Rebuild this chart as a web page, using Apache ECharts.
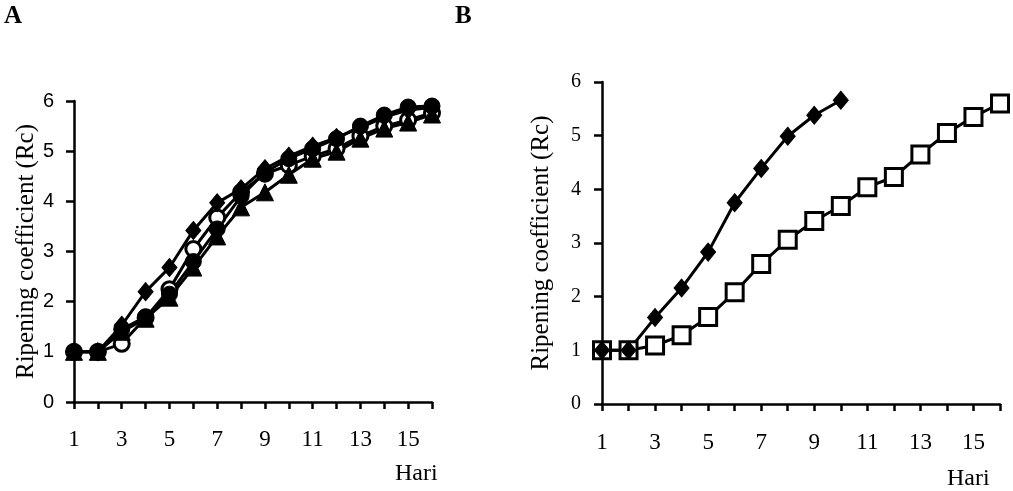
<!DOCTYPE html>
<html>
<head>
<meta charset="utf-8">
<script src="https://cdn.jsdelivr.net/npm/echarts@6/dist/echarts.min.js"></script>
<style>
html,body{margin:0;padding:0;background:#fff;}
#chart{width:1013px;height:491px;}
</style>
</head>
<body>
<div id="chart"></div>
<script>
// ---- data ----
var days = [1,2,3,4,5,6,7,8,9,10,11,12,13,14,15,16];
var xTickLabels = [1,3,5,7,9,11,13,15];
var yTicks = [0,1,2,3,4,5,6];

// Panel A
var aDiamond = [1,1,1.53,2.2,2.68,3.42,3.97,4.25,4.65,4.9,5.1,5.27,5.47,5.68,5.82,5.87];
var aOpenCircle = [1,1,1.16,1.68,2.25,3.05,3.68,4.18,4.55,4.72,4.9,5.05,5.3,5.5,5.62,5.76];
var aTriangle = [1,1,1.4,1.66,2.08,2.68,3.3,3.88,4.18,4.53,4.85,4.99,5.25,5.45,5.57,5.73];
var aFilledCircle = [1,1,1.45,1.7,2.15,2.8,3.45,4.1,4.58,4.85,5.05,5.25,5.5,5.72,5.88,5.9];

// Panel B
var bDiamond = [1,1,1.61,2.16,2.83,3.75,4.39,4.99,5.38,5.66];
var bOpenSquare = [1,1,1.09,1.28,1.62,2.08,2.61,3.06,3.41,3.69,4.04,4.23,4.65,5.05,5.35,5.6];

var yName = 'Ripening coefficient (Rc)';
var xName = 'Hari';

function pairs(vals){ return vals.map(function(v,i){ return [days[i], v]; }); }

var serif = 'Liberation Serif, Times New Roman, serif';
var sans = 'Liberation Sans, Arial, sans-serif';

function xAxisCfg(gi, margin){
  return {
    gridIndex: gi, type: 'value', min: 1, max: 16, interval: 1,
    axisLine: {show: true, onZero: false, lineStyle: {color: '#000', width: 2.5}},
    axisTick: {show: true, inside: false, length: 7, lineStyle: {color: '#000', width: 2.5}},
    splitLine: {show: false},
    axisLabel: {
      color: '#000', fontFamily: serif, fontSize: 23, margin: margin,
      formatter: function(v){ return xTickLabels.indexOf(v) >= 0 ? String(v) : ''; }
    }
  };
}
function yAxisCfg(gi, font, size, margin, gap){
  return {
    gridIndex: gi, type: 'value', min: 0, max: 6, interval: 1,
    name: yName, nameLocation: 'middle', nameGap: gap, nameRotate: 90,
    nameTextStyle: {color: '#000', fontFamily: serif, fontSize: 25},
    axisLine: {show: true, lineStyle: {color: '#000', width: 2.5}},
    axisTick: {show: true, inside: false, length: 8, lineStyle: {color: '#000', width: 2.5}},
    splitLine: {show: false},
    axisLabel: {color: '#000', fontFamily: font, fontSize: size, margin: margin,
      formatter: function(v){ return yTicks.indexOf(v) >= 0 ? String(v) : ''; }}
  };
}
function line(xi, data, symbol, size, filled){
  return {
    type: 'line', xAxisIndex: xi, yAxisIndex: xi, data: pairs(data),
    symbol: symbol, symbolSize: size, showAllSymbol: true,
    lineStyle: {color: '#000', width: 3},
    itemStyle: {color: filled ? '#000' : '#fff', borderColor: '#000', borderWidth: filled ? 1 : 3, opacity: 1},
    emphasis: {disabled: true},
    silent: true, animation: false
  };
}

var chart = echarts.init(document.getElementById('chart'), null, {renderer: 'canvas'});
chart.setOption({
  backgroundColor: '#fff',
  animation: false,
  grid: [
    {left: 74, right: 581, top: 101, bottom: 89, containLabel: false},
    {left: 602, right: 13, top: 82, bottom: 87, containLabel: false}
  ],
  xAxis: [xAxisCfg(0, 26), xAxisCfg(1, 27)],
  yAxis: [yAxisCfg(0, sans, 20, 20, 35), yAxisCfg(1, serif, 20, 21, 48)],
  graphic: [
    {type: 'text', left: 4, top: 4, style: {text: 'A', font: 'bold 25px ' + serif, fill: '#000'}},
    {type: 'text', left: 455, top: 4, style: {text: 'B', font: 'bold 25px ' + serif, fill: '#000'}},
    {type: 'text', left: 395, top: 462, style: {text: xName, font: '24px ' + serif, fill: '#000'}},
    {type: 'text', left: 947, top: 467, style: {text: xName, font: '24px ' + serif, fill: '#000'}}
  ],
  series: [
    line(0, aOpenCircle, 'circle', 15, false),
    line(0, aTriangle, 'triangle', 17, true),
    line(0, aFilledCircle, 'circle', 16, true),
    line(0, aDiamond, 'diamond', [15, 18], true),
    line(1, bOpenSquare, 'rect', 17, false),
    line(1, bDiamond, 'diamond', [15, 18], true)
  ]
});
</script>
</body>
</html>
